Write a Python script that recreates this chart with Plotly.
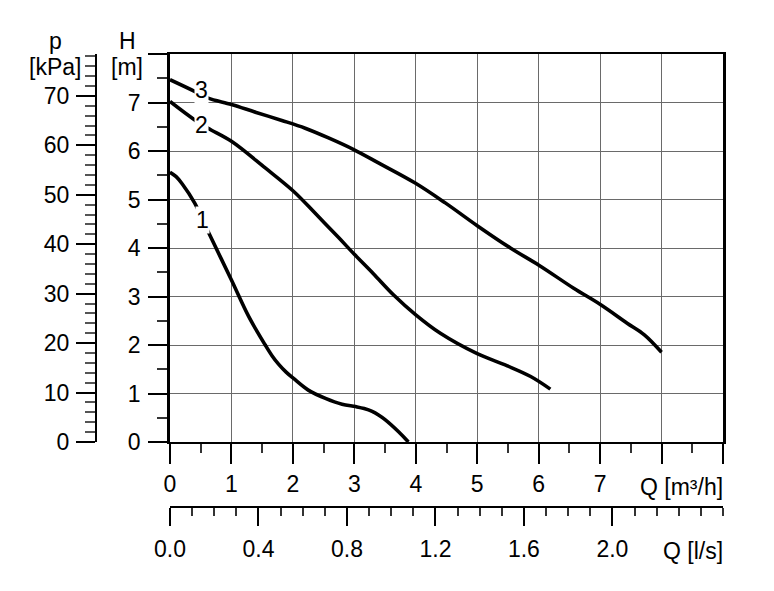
import plotly.graph_objects as go

# ---------------- data ----------------
# curve 1
q1 = [0, 0.10, 0.20, 0.40, 0.62, 1.0, 1.28, 1.55, 1.66, 1.77, 1.89, 2.01, 2.25, 2.53, 2.80, 3.02, 3.16, 3.29, 3.40, 3.50, 3.72, 3.88]
h1 = [5.56, 5.47, 5.32, 4.93, 4.34, 3.34, 2.59, 2.0, 1.78, 1.60, 1.44, 1.31, 1.07, 0.90, 0.78, 0.73, 0.69, 0.63, 0.55, 0.46, 0.21, 0.0]
# curve 2
q2 = [0, 0.38, 0.62, 1.0, 1.55, 2.01, 2.36, 2.74, 3.0, 3.31, 3.64, 4.0, 4.40, 5.0, 5.49, 5.87, 6.19]
h2 = [7.02, 6.66, 6.47, 6.2, 5.65, 5.17, 4.72, 4.22, 3.87, 3.47, 3.03, 2.62, 2.24, 1.82, 1.57, 1.35, 1.09]
# curve 3
q3 = [0, 0.40, 0.62, 1.0, 1.39, 1.82, 2.2, 2.58, 2.99, 3.4, 3.99, 4.48, 5.0, 5.54, 6.01, 6.57, 7.01, 7.44, 7.72, 8.0]
h3 = [7.47, 7.23, 7.09, 6.96, 6.80, 6.63, 6.47, 6.27, 6.03, 5.75, 5.34, 4.93, 4.46, 4.0, 3.64, 3.17, 2.83, 2.45, 2.21, 1.85]

curve_names = ["1", "2", "3"]
label_q = [0.53, 0.51, 0.51]
label_h = [4.58, 6.54, 7.25]

# tick labels
q_m3h_ticks = [0, 1, 2, 3, 4, 5, 6, 7, 8, 9]
q_m3h_text = ["0", "1", "2", "3", "4", "5", "6", "7", "", ""]
q_ls_ticks = [0.0, 0.4, 0.8, 1.2, 1.6, 2.0, 2.4]
q_ls_text = ["0.0", "0.4", "0.8", "1.2", "1.6", "2.0", ""]
h_ticks = [0, 1, 2, 3, 4, 5, 6, 7, 8]
h_text = ["0", "1", "2", "3", "4", "5", "6", "7", ""]
p_ticks = [0, 10, 20, 30, 40, 50, 60, 70]
p_text = ["0", "10", "20", "30", "40", "50", "60", "70"]

Q_MAX = 9.0
H_MAX = 8.0
RHO_G = 9.81          # kPa per m
M3H_PER_LS = 3.6

# ---------------- layout geometry (pixels) ----------------
W, H = 774, 591
L, R, T, B = 96, 723, 54, 507   # outer plotting box
X0 = 170                        # H axis / Q=0
Y0 = 442                        # H=0 / main Q axis
PW, PH = R - L, B - T


def paper(px, py):
    return (px - L) / PW, (B - py) / PH


xdom0 = (X0 - L) / PW
ydom0 = (B - Y0) / PH

FONT = "Liberation Sans, Arial, sans-serif"
FS = 23

fig = go.Figure()
for q, h in [(q1, h1), (q2, h2), (q3, h3)]:
    fig.add_trace(go.Scatter(x=q, y=h, mode="lines",
                             line=dict(color="black", width=3.6, shape="spline", smoothing=1.0),
                             hoverinfo="skip", showlegend=False))
# empty trace so that the secondary (l/s and kPa) axes are drawn
fig.add_trace(go.Scatter(x=[], y=[], xaxis="x2", yaxis="y2", mode="lines", showlegend=False, hoverinfo="skip"))

annotations = []
for name, xq, yh in zip(curve_names, label_q, label_h):
    annotations.append(dict(x=xq, y=yh, xref="x", yref="y", text=name, showarrow=False,
                            font=dict(size=FS, color="black", family=FONT), bgcolor="white",
                            borderpad=0, xanchor="center", yanchor="middle"))


def ann(text, px, py, xanchor="center"):
    xp, yp = paper(px, py)
    annotations.append(dict(x=xp, y=yp, xref="paper", yref="paper", text=text, showarrow=False,
                            font=dict(size=FS, color="black", family=FONT), xanchor=xanchor,
                            yanchor="middle", borderpad=0))


ann("p", 55, 41)
ann("[kPa]", 55, 67)
ann("H", 127, 41)
ann("[m]", 127, 67)
ann("Q [m³/h]", 724, 487, "right")
ann("Q [l/s]", 724, 551, "right")

tickfont = dict(size=FS, color="black", family=FONT)

fig.update_layout(
    width=W, height=H,
    margin=dict(l=L, r=W - R, t=T, b=H - B, pad=0),
    paper_bgcolor="white", plot_bgcolor="white",
    showlegend=False,
    annotations=annotations,
    xaxis=dict(domain=[xdom0, 1], range=[0, Q_MAX], anchor="y", showline=True, linecolor="black",
               linewidth=2, mirror=True, ticks="outside", ticklen=20, tickwidth=2, tickcolor="black",
               tickmode="array", tickvals=q_m3h_ticks, ticktext=q_m3h_text, tickfont=tickfont,
               showgrid=True, gridcolor="#6a6a6a", gridwidth=1, zeroline=False,
               minor=dict(tickmode="array", tickvals=[v + 0.5 for v in q_m3h_ticks[:-1]], ticks="outside",
                          ticklen=9, tickwidth=1.5, tickcolor="#333", showgrid=False)),
    yaxis=dict(domain=[ydom0, 1], range=[0, H_MAX], anchor="x", showline=True, linecolor="black",
               linewidth=2.5, mirror=True, ticks="outside", ticklen=19, tickwidth=2, tickcolor="black",
               tickmode="array", tickvals=h_ticks, ticktext=h_text, tickfont=tickfont,
               ticklabelstandoff=3,
               showgrid=True, gridcolor="#6a6a6a", gridwidth=1, zeroline=False,
               minor=dict(tickmode="array", tickvals=[v + 0.5 for v in h_ticks[:-1]], ticks="outside",
                          ticklen=10, tickwidth=1.5, tickcolor="#333", showgrid=False)),
    xaxis2=dict(domain=[xdom0, 1], range=[0, Q_MAX / M3H_PER_LS], anchor="free", position=0,
                overlaying="x", side="bottom", showline=True, linecolor="black", linewidth=2,
                ticks="outside", ticklen=18, tickwidth=2, tickcolor="black",
                tickmode="array", tickvals=q_ls_ticks, ticktext=q_ls_text, tickfont=tickfont,
                ticklabelstandoff=3,
                showgrid=False, zeroline=False,
                minor=dict(tickmode="array", tickvals=[round(i * 0.1, 1) for i in range(26)], ticks="outside",
                           ticklen=8, tickwidth=1.5, tickcolor="#333", showgrid=False)),
    yaxis2=dict(domain=[ydom0, 1], range=[0, H_MAX * RHO_G], anchor="free", position=0,
                overlaying="y", side="left", showline=True, linecolor="black", linewidth=2,
                ticks="outside", ticklen=19, tickwidth=2, tickcolor="black",
                tickmode="array", tickvals=p_ticks, ticktext=p_text, tickfont=tickfont,
                ticklabelstandoff=2,
                showgrid=False, zeroline=False,
                minor=dict(tickmode="array", tickvals=list(range(0, 79, 2)), ticks="outside",
                           ticklen=10, tickwidth=1.5, tickcolor="#555", showgrid=False)),
)

fig.write_html("out.html")
